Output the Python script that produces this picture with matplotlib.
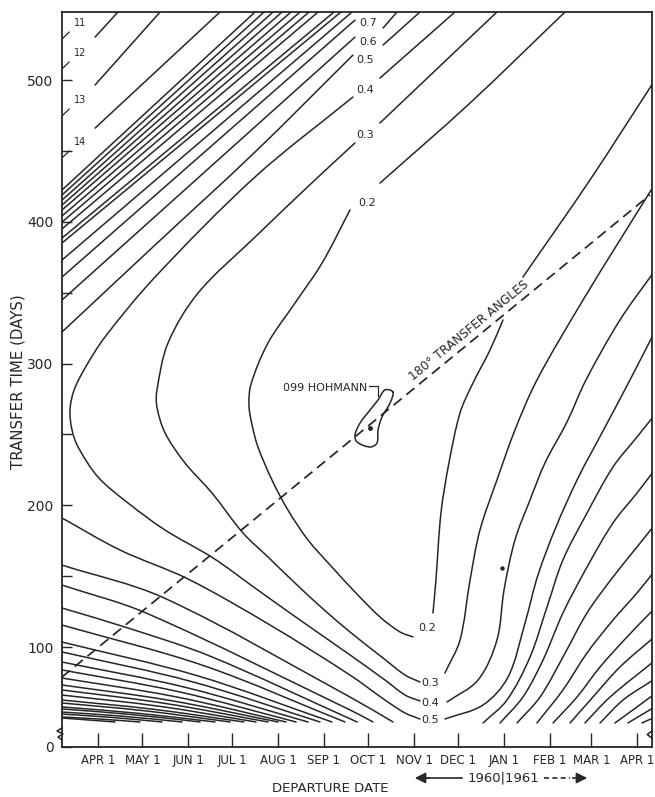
import math
import numpy as np
import matplotlib.pyplot as plt
from matplotlib.lines import Line2D
from matplotlib.path import Path
from matplotlib.patches import PathPatch

plt.rcParams['font.family'] = ['DejaVu Sans']
INK = '#262626'

# departure date: days after 1 APR 1960 ; transfer time: days
month_days = [0, 30, 61, 91, 122, 153, 183, 214, 244, 275, 306, 334, 365]
month_labels = ["APR 1", "MAY 1", "JUN 1", "JUL 1", "AUG 1", "SEP 1", "OCT 1",
                "NOV 1", "DEC 1", "JAN 1", "FEB 1", "MAR 1", "APR 1"]
y_ticks = [29.45, 100, 200, 300, 400, 500]
y_ticklabels = ["0", "100", "200", "300", "400", "500"]
y_minor = [150, 250, 350, 450]

# labelled contours, one list per segment
c02_x = [[190.9, 251.9, 316.2],
         [170.6, 151.7, 133.4, 115.1, 103.6, 102.2, 104.3, 108.3, 117.8, 128.6, 142.2, 158.4, 174.0, 190.9, 204.5, 213.3],
         [226.8, 228.8, 232.2, 237.6, 245.1, 253.2, 265.4, 274.2],
         [287.7, 333.1, 375.8]]
c02_y = [[427.3, 483.8, 548.0],
         [408.3, 370.9, 342.7, 314.5, 285.5, 270.7, 256.6, 241.1, 217.8, 196.6, 175.5, 156.4, 138.8, 121.2, 110.6, 107.1],
         [124.0, 147.3, 194.5, 229.8, 265.1, 284.8, 309.5, 330.7],
         [361.0, 429.5, 497.9]]

c03_x = [[190.9, 270.1],
         [174.0, 146.9, 106.3, 67.7, 47.4, 39.9, 39.9, 45.4, 58.9, 77.2, 98.2, 115.1, 133.4, 151.7, 170.6, 193.0, 207.9, 218.0],
         [234.9, 245.1, 251.9, 258.6, 270.1, 282.3, 297.2, 328.4, 353.4, 375.8]]
c03_y = [[469.7, 548.0],
         [455.6, 429.5, 389.2, 349.7, 314.5, 281.3, 269.3, 251.0, 229.8, 208.6, 180.4, 163.5, 145.1, 127.5, 110.6, 92.2, 80.2, 75.3],
         [81.7, 104.9, 147.3, 182.5, 217.8, 253.1, 288.4, 344.8, 387.1, 424.5]]

c04_x = [[190.9, 241.7],
         [172.6, 106.3, 38.6, 4.7, -8.8, -16.2, -19.0, -17.6, -13.5, 0.0, 20.3, 45.4, 77.9, 106.3, 136.8, 170.6, 194.3, 207.9, 218.0],
         [236.3, 257.3, 270.1, 274.9, 282.3, 292.5, 302.6, 317.5, 330.4, 353.4, 375.8]]
c04_y = [[501.4, 548.0],
         [488.0, 431.6, 361.0, 318.7, 296.8, 281.3, 267.2, 253.1, 241.1, 219.9, 201.6, 182.5, 162.8, 141.6, 119.0, 94.4, 76.7, 66.1, 61.9],
         [61.2, 76.7, 104.9, 140.2, 175.5, 203.7, 229.8, 258.7, 288.4, 330.7, 363.8]]

c05_x = [[193.0, 218.0],
         [-24.4, 38.6, 106.3, 172.6],
         [-24.4, 14.9, 60.9, 116.5, 170.6, 194.3, 207.9, 218.0],
         [234.9, 260.7, 277.6, 289.1, 297.9, 310.1, 325.0, 341.2, 360.2, 375.8]]
c05_y = [[524.7, 548.0],
         [322.2, 383.6, 449.2, 517.6],
         [191.0, 168.4, 148.0, 115.5, 80.2, 62.6, 53.4, 49.2],
         [49.2, 59.1, 78.8, 116.9, 150.8, 184.7, 219.2, 251.0, 288.4, 320.1]]

c06_x = [[193.0, 202.4], [-24.4, 174.0]]
c06_y = [[536.7, 548.0], [344.8, 530.3]]
c07_x = [[-24.4, 174.0]]
c07_y = [[361.0, 542.3]]

# upper-left family: left-edge transfer time -> departure at top edge
ridge_start_y = [373.0, 385.0, 388.5, 394.9, 399.8, 404.1, 408.3, 411.8, 415.3, 418.9, 422.4]
ridge_top_x = [172.0, 164.5, 159.8, 149.0, 142.9, 136.8, 130.7, 124.6, 118.5, 112.4, 106.3]
corner_x = [[-2.0, 13.5], [-2.0, 42.0], [-2.0, 82.6]]
corner_y = [[530.3, 548.0], [496.5, 548.0], [466.1, 548.0]]

# lower-left fan (short transfers)
fan_x = [[-24.4, 44.7, 170.6, 199.7], [-24.4, 32.5, 170.6, 186.2], [-24.4, 20.3, 75.5, 175.4],
         [-24.4, 71.4, 167.2], [-24.4, 67.0, 158.4], [-24.4, 63.0, 150.3], [-24.4, 58.9, 142.2],
         [-24.4, 54.8, 134.1], [-24.4, 51.5, 127.3], [-24.4, 48.7, 121.9], [-24.4, 45.4, 115.1],
         [-24.4, 41.3, 107.0], [-24.4, 37.2, 98.8], [-24.4, 32.5, 89.4], [-24.4, 27.4, 79.2],
         [-24.4, 22.3, 69.1], [-24.4, 16.2, 56.9], [-24.4, 9.5, 43.3], [-24.4, 2.0, 28.4],
         [-24.4, -6.4, 11.5]]
fan_y = [[157.8, 134.6, 64.7, 47.1], [143.7, 124.0, 55.6, 47.1], [127.5, 113.4, 93.7, 47.1],
         [115.5, 86.9, 47.1], [103.5, 79.8, 47.1], [96.5, 75.7, 47.1], [89.4, 71.6, 47.1],
         [83.8, 68.4, 47.1], [78.1, 65.1, 47.1], [73.2, 62.3, 47.1], [69.7, 60.2, 47.1],
         [66.1, 58.2, 47.1], [62.6, 56.1, 47.1], [60.5, 54.9, 47.1], [57.7, 53.2, 47.1],
         [56.3, 52.4, 47.1], [54.1, 51.2, 47.1], [52.7, 50.3, 47.1], [50.6, 49.1, 47.1],
         [49.9, 48.5, 47.1]]

# lower-right family (late departures)
right_x = [[260.7, 276.9, 292.5, 304.0, 314.8, 331.1, 348.7, 364.9, 375.8],
           [272.2, 287.7, 301.3, 314.8, 331.1, 348.7, 364.9, 375.8],
           [283.7, 299.3, 314.8, 331.1, 348.7, 364.9, 375.8],
           [297.2, 314.8, 331.1, 348.7, 364.9, 375.8],
           [308.1, 324.3, 339.9, 358.2, 375.8],
           [319.6, 335.1, 353.4, 375.8],
           [329.7, 346.7, 375.8],
           [339.9, 355.5, 375.8],
           [350.0, 362.2, 375.8],
           [358.8, 375.8],
           [368.3, 375.8]]
right_y = [[46.4, 62.6, 92.9, 128.2, 161.4, 194.5, 227.0, 248.1, 262.3],
           [46.4, 64.7, 90.8, 124.0, 156.4, 187.5, 208.6, 223.5],
           [46.4, 64.7, 92.9, 124.0, 149.4, 170.5, 184.7],
           [46.4, 69.7, 95.8, 119.0, 138.1, 152.2],
           [46.4, 64.7, 85.9, 107.1, 126.1],
           [46.4, 64.7, 85.9, 106.3],
           [46.4, 64.7, 89.4],
           [46.4, 62.6, 76.7],
           [46.4, 55.6, 66.1],
           [46.4, 57.0],
           [46.4, 49.9]]

# 180 deg transfer line and Hohmann region
transfer180_x = [-24.4, 373.7]
transfer180_y = [78.8, 418.9]
hohmann_x = [199.7, 197.7, 192.3, 189.6, 188.9, 184.2, 175.4, 174.0, 177.4, 184.2, 189.6, 194.3]
hohmann_y = [279.9, 272.1, 262.3, 253.1, 243.9, 241.1, 244.6, 249.6, 258.0, 267.2, 274.3, 281.4]
hohmann_pt = (184.2, 254.5)
leader_x = [183.5, 189.6, 189.6]
leader_y = [284.1, 284.1, 277.0]
stray_pt = (273.5, 155.7)

top_labels = ["0.7", "0.6", "0.5", "0.4", "0.3", "0.2"]
top_label_x = [182.8, 182.8, 180.8, 180.8, 180.8, 182.1]
top_label_y = [540.2, 526.8, 514.1, 492.9, 461.2, 413.2]
bottom_labels = ["0.2", "0.3", "0.4", "0.5"]
bottom_label_x = [222.7, 224.8, 224.8, 224.8]
bottom_label_y = [113.4, 74.6, 60.5, 48.5]
corner_labels = ["11", "12", "13", "14"]
corner_label_y = [540.2, 519.0, 485.9, 456.3]
corner_hook_y = [[529.6, 533.8], [508.5, 512.7], [475.3, 479.5], [445.7, 449.9]]


fig = plt.figure(figsize=(6.55, 7.97), dpi=100)
ax = fig.add_axes([62 / 655, 50 / 797, 590 / 655, 735 / 797])
ax.set_xlim(-24.4, 375.1)
ax.set_ylim(29.45, 548.0)

LW = 1.1


def smooth_path(xs, ys, closed=False):
    # cubic bezier through the read points (chord-length hermite tangents)
    p = np.column_stack([xs, ys]).astype(float)
    if closed:
        p = np.vstack([p, p[:1]])
    n = len(p)
    d = np.hypot(*np.diff(p, axis=0).T)
    t = np.zeros_like(p)
    for i in range(n):
        if 0 < i < n - 1:
            t[i] = (p[i + 1] - p[i - 1]) / (d[i - 1] + d[i])
        elif closed:
            t[i] = (p[1] - p[-2]) / (d[0] + d[-1])
        elif i == 0:
            t[i] = (p[1] - p[0]) / d[0]
        else:
            t[i] = (p[-1] - p[-2]) / d[-1]
    verts = [p[0]]
    codes = [Path.MOVETO]
    for i in range(n - 1):
        verts += [p[i] + t[i] * d[i] / 3, p[i + 1] - t[i + 1] * d[i] / 3, p[i + 1]]
        codes += [Path.CURVE4] * 3
    return Path(verts, codes)


def draw(xs_list, ys_list, closed=False, lw=LW):
    for xs, ys in zip(xs_list, ys_list):
        ax.add_patch(PathPatch(smooth_path(xs, ys, closed), fill=False,
                               edgecolor=INK, lw=lw, capstyle='round'))


for xs, ys in [(c02_x, c02_y), (c03_x, c03_y), (c04_x, c04_y), (c05_x, c05_y),
               (c06_x, c06_y), (c07_x, c07_y), (corner_x, corner_y),
               (fan_x, fan_y), (right_x, right_y)]:
    draw(xs, ys)

for y0, x1 in zip(ridge_start_y, ridge_top_x):
    ax.plot([-24.4, x1], [y0, 548.0], color=INK, lw=LW)

ax.plot(transfer180_x, transfer180_y, color=INK, lw=1.25, dashes=(6, 3.5))
draw([hohmann_x], [hohmann_y], closed=True)
ax.plot(*hohmann_pt, 'o', color=INK, ms=2.5)
ax.plot(leader_x, leader_y, color=INK, lw=0.9)
ax.plot(*stray_pt, 'o', color=INK, ms=2.2)

for t, x, y in zip(top_labels, top_label_x, top_label_y):
    ax.text(x, y, t, fontsize=8, color=INK, ha='center', va='center')
for t, x, y in zip(bottom_labels, bottom_label_x, bottom_label_y):
    ax.text(x, y, t, fontsize=8, color=INK, ha='center', va='center')
for t, y, hy in zip(corner_labels, corner_label_y, corner_hook_y):
    ax.text(-12.2, y, t, fontsize=7, color=INK, ha='center', va='center')
    ax.plot([-23.7, -19.6], hy, color=INK, lw=0.9)

ax.text(182.1, 282.7, "099 HOHMANN", fontsize=8, color=INK, ha='right', va='center')

# text along the 180 deg line
p0 = ax.transData.transform((transfer180_x[0], transfer180_y[0]))
p1 = ax.transData.transform((transfer180_x[1], transfer180_y[1]))
ang = math.degrees(math.atan2(p1[1] - p0[1], p1[0] - p0[0]))
ax.text(254.0, 319.5, "180° TRANSFER ANGLES", fontsize=8.8, color=INK,
        rotation=ang, rotation_mode='anchor', ha='center', va='bottom')

# axes styling
for s in ax.spines.values():
    s.set_linewidth(1.3)
    s.set_color(INK)
ax.set_xticks(month_days)
ax.set_xticklabels(month_labels, fontsize=8.5, color=INK)
ax.tick_params(axis='x', direction='in', length=10, width=1, pad=5, colors=INK)
ax.set_yticks(y_ticks)
ax.set_yticklabels(y_ticklabels, fontsize=10, color=INK)
ax.set_yticks(y_minor, minor=True)
ax.tick_params(axis='y', which='both', direction='in', length=7, width=1, pad=6, colors=INK)

# axis breaks
ax.plot([0, -0.0085, 0.0017, -0.0068, 0], [0.0259, 0.0218, 0.0177, 0.0136, 0.0095],
        transform=ax.transAxes, color=INK, lw=1.1, clip_on=False)
ax.plot([1, 0.992, 1], [0.022, 0.017, 0.012], transform=ax.transAxes,
        color=INK, lw=1.1, clip_on=False)

fig.text(18 / 655, 1 - 382 / 797, "TRANSFER TIME (DAYS)", rotation=90,
         fontsize=10.8, color=INK, ha='center', va='center')
fig.text(330 / 655, 1 - 789 / 797, "DEPARTURE DATE", fontsize=9.5, color=INK,
         ha='center', va='center')
fig.text(503 / 655, 1 - 778 / 797, "1960|1961", fontsize=9.5, color=INK,
         ha='center', va='center')

yy = 1 - 778 / 797
fig.add_artist(Line2D([462 / 655, 425 / 655], [yy, yy], transform=fig.transFigure,
                      color=INK, lw=1.2))
ax.annotate('', xy=(412 / 655, yy), xytext=(432 / 655, yy), xycoords='figure fraction',
            arrowprops=dict(arrowstyle='-|>', color=INK, lw=1.2, mutation_scale=16))
fig.add_artist(Line2D([544 / 655, 570 / 655], [yy, yy], transform=fig.transFigure,
                      color=INK, lw=1.2, dashes=(3, 2)))
ax.annotate('', xy=(590 / 655, yy), xytext=(570 / 655, yy), xycoords='figure fraction',
            arrowprops=dict(arrowstyle='-|>', color=INK, lw=1.2, mutation_scale=16))

fig.savefig('out.png', dpi=100, facecolor='white')
